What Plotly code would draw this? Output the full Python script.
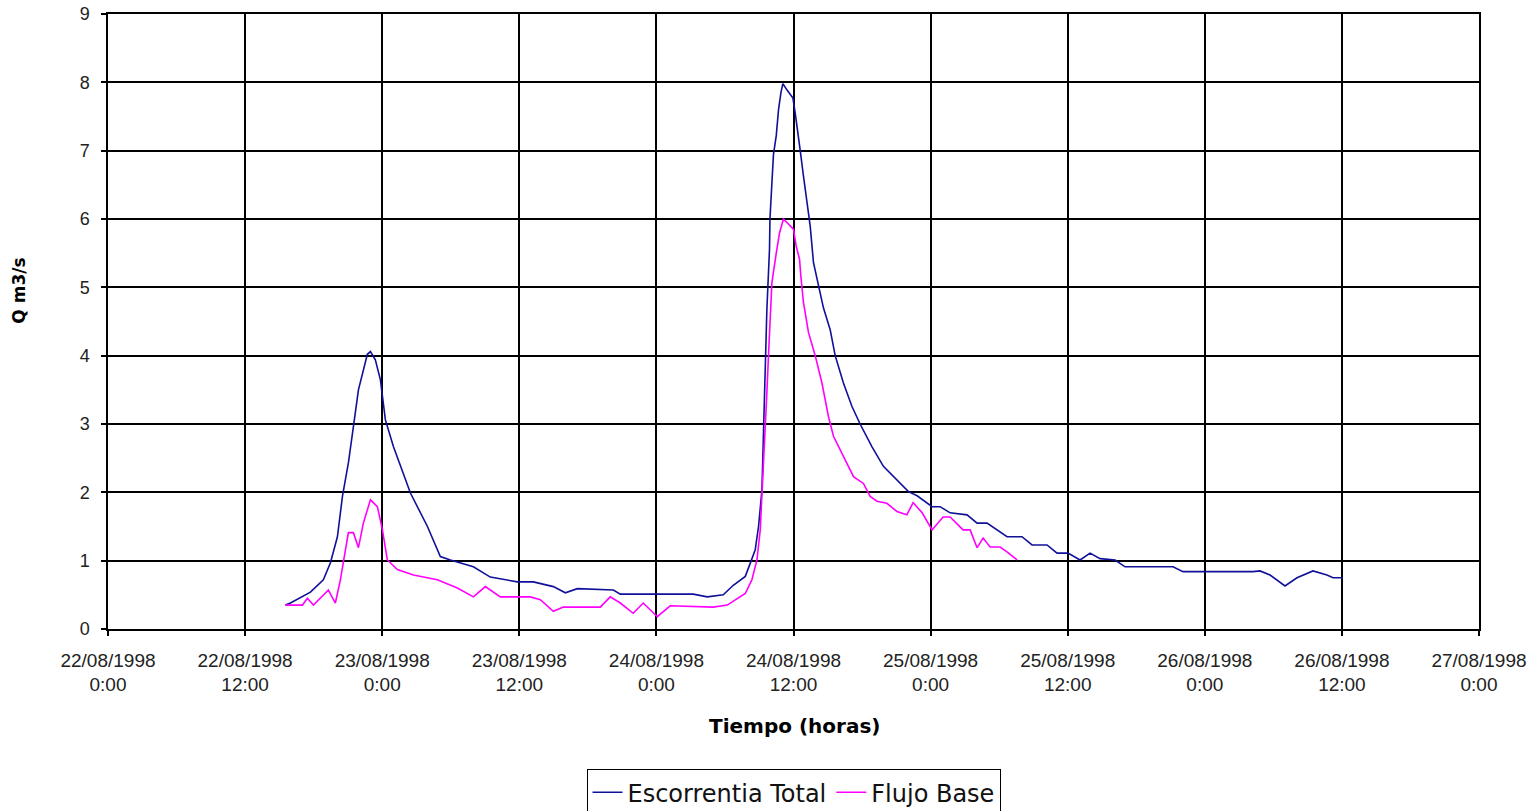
import plotly.graph_objects as go
from datetime import datetime, timedelta

inicio = datetime(1998, 8, 22, 0, 0)

# Escorrentia Total: hours since 22/08/1998 0:00, Q (m3/s)
horas_total = [15.53, 15.97, 17.72, 18.85, 19.47, 20.08, 20.52, 21.04, 21.48, 21.92,
               22.70, 22.97, 23.40, 23.84, 24.28, 24.98, 26.47, 27.96, 29.09, 29.97,
               31.98, 33.46, 35.83, 37.23, 38.98, 40.03, 41.08, 44.23, 44.84, 48.08,
               51.23, 52.45, 53.85, 54.73, 55.34, 55.78, 56.21, 56.65, 56.94, 57.24,
               57.38, 57.52, 57.67, 57.90, 57.94, 58.11, 58.25, 58.49, 58.69, 58.90,
               59.07, 59.42, 59.95, 60.15, 60.35, 60.59, 60.87, 61.17, 61.46, 61.75,
               62.19, 62.62, 63.21, 63.65, 64.37, 65.11, 65.83, 66.86, 67.87, 69.05,
               70.06, 70.82, 72.13, 72.83, 73.71, 75.19, 76.07, 76.94, 78.69, 80.00,
               80.88, 82.19, 83.07, 84.03, 85.08, 85.96, 86.83, 88.15, 89.02, 93.22,
               94.09, 100.22, 100.83, 101.71, 103.02, 104.07, 105.47, 106.69, 107.22, 108.09]
q_total = [0.35, 0.38, 0.54, 0.72, 0.97, 1.35, 1.94, 2.43, 2.96, 3.50,
           4.02, 4.06, 3.94, 3.65, 3.06, 2.67, 1.99, 1.50, 1.06, 1.01,
           0.91, 0.76, 0.69, 0.69, 0.62, 0.53, 0.59, 0.57, 0.51, 0.51,
           0.51, 0.47, 0.50, 0.64, 0.72, 0.77, 0.96, 1.16, 1.50, 2.04,
           2.92, 4.00, 4.68, 5.56, 6.00, 6.53, 6.95, 7.22, 7.60, 7.85,
           7.98, 7.89, 7.77, 7.55, 7.26, 7.00, 6.63, 6.24, 5.90, 5.36,
           5.02, 4.70, 4.38, 4.00, 3.60, 3.26, 3.00, 2.67, 2.38, 2.18,
           2.01, 1.95, 1.79, 1.79, 1.70, 1.67, 1.55, 1.55, 1.35, 1.35,
           1.23, 1.23, 1.11, 1.11, 1.01, 1.11, 1.03, 1.01, 0.91, 0.91,
           0.84, 0.84, 0.85, 0.79, 0.63, 0.75, 0.85, 0.79, 0.75, 0.75]

# Flujo Base
horas_base = [15.53, 17.02, 17.45, 17.98, 19.29, 19.90, 20.34, 21.04, 21.48, 21.92,
              22.35, 22.97, 23.58, 24.02, 24.45, 25.33, 26.73, 28.83, 30.58, 31.98,
              33.03, 34.34, 36.96, 37.84, 38.98, 39.85, 43.09, 43.96, 44.84, 45.97,
              46.85, 48.08, 49.21, 51.84, 52.97, 54.20, 55.34, 55.78, 56.36, 56.80,
              57.09, 57.24, 57.52, 57.67, 57.81, 58.11, 58.49, 58.78, 59.12, 59.56,
              60.00, 60.24, 60.53, 60.64, 60.87, 61.31, 61.90, 62.49, 63.06, 63.50,
              64.09, 64.67, 65.25, 66.12, 66.71, 67.30, 68.17, 69.05, 69.92, 70.47,
              71.26, 72.13, 73.09, 73.71, 74.84, 75.46, 76.07, 76.60, 77.21, 78.08,
              78.69, 79.57]
q_base = [0.35, 0.35, 0.45, 0.35, 0.57, 0.38, 0.72, 1.41, 1.41, 1.19,
          1.55, 1.89, 1.79, 1.45, 1.01, 0.87, 0.79, 0.72, 0.60, 0.47,
          0.62, 0.47, 0.47, 0.43, 0.26, 0.32, 0.32, 0.47, 0.38, 0.23,
          0.38, 0.18, 0.34, 0.32, 0.32, 0.35, 0.47, 0.52, 0.72, 1.01,
          1.45, 1.94, 2.77, 3.46, 4.00, 5.07, 5.50, 5.80, 6.00, 5.92,
          5.85, 5.60, 5.41, 5.17, 4.78, 4.34, 4.00, 3.60, 3.11, 2.82,
          2.62, 2.43, 2.23, 2.13, 1.94, 1.87, 1.84, 1.72, 1.67, 1.85,
          1.70, 1.45, 1.64, 1.64, 1.45, 1.45, 1.19, 1.33, 1.20, 1.20,
          1.13, 1.01]

tick_fechas = ["1998-08-22 00:00", "1998-08-22 12:00", "1998-08-23 00:00", "1998-08-23 12:00",
               "1998-08-24 00:00", "1998-08-24 12:00", "1998-08-25 00:00", "1998-08-25 12:00",
               "1998-08-26 00:00", "1998-08-26 12:00", "1998-08-27 00:00"]
tick_textos = ["22/08/1998<br>0:00", "22/08/1998<br>12:00", "23/08/1998<br>0:00", "23/08/1998<br>12:00",
               "24/08/1998<br>0:00", "24/08/1998<br>12:00", "25/08/1998<br>0:00", "25/08/1998<br>12:00",
               "26/08/1998<br>0:00", "26/08/1998<br>12:00", "27/08/1998<br>0:00"]

x_total = [inicio + timedelta(hours=h) for h in horas_total]
x_base = [inicio + timedelta(hours=h) for h in horas_base]

fig = go.Figure()
fig.add_trace(go.Scatter(x=x_total, y=q_total, mode="lines", name="Escorrentia Total",
                         line=dict(color="#10109A", width=1.6)))
fig.add_trace(go.Scatter(x=x_base, y=q_base, mode="lines", name="Flujo Base",
                         line=dict(color="#FF00FF", width=1.6)))

fig.update_layout(
    width=1539, height=811,
    margin=dict(l=107.5, r=60, t=14, b=181.5, autoexpand=False),
    paper_bgcolor="white", plot_bgcolor="white",
    font=dict(family="Liberation Sans, Arial", color="#222222", size=18),
    showlegend=True,
    legend=dict(orientation="h", x=0.5, xanchor="center", y=-0.228, yanchor="top",
                bordercolor="black", borderwidth=1, bgcolor="white",
                font=dict(size=24, color="#111111", family="DejaVu Sans"),
                itemwidth=30, tracegroupgap=0),
    xaxis=dict(
        type="date", range=["1998-08-22 00:00", "1998-08-27 00:00"],
        tickmode="array", tickvals=tick_fechas, ticktext=tick_textos,
        showgrid=True, gridcolor="black", gridwidth=1.5,
        showline=True, linecolor="black", linewidth=1.5, mirror=True,
        ticks="outside", ticklen=5, tickcolor="black", tickwidth=1.5,
        ticklabelstandoff=8, automargin=False,
        tickfont=dict(size=19, color="#222222"), zeroline=False,
    ),
    yaxis=dict(
        range=[0, 9], dtick=1, tick0=0,
        showgrid=True, gridcolor="black", gridwidth=1.5,
        showline=True, linecolor="black", linewidth=1.5, mirror=True,
        ticks="outside", ticklen=5, tickcolor="black", tickwidth=1.5,
        ticklabelstandoff=8, automargin=False,
        tickfont=dict(size=18, color="#222222"), zeroline=False,
    ),
    annotations=[
        dict(text="<b>Tiempo (horas)</b>", xref="paper", yref="paper", x=0.501, y=-0.158,
             xanchor="center", yanchor="middle", showarrow=False,
             font=dict(size=20, color="black", family="DejaVu Sans")),
        dict(text="<b>Q m3/s</b>", xref="paper", yref="paper", x=-0.065, y=0.55,
             xanchor="center", yanchor="middle", showarrow=False, textangle=-90,
             font=dict(size=17, color="black", family="DejaVu Sans")),
    ],
)

fig.write_html("out.html", config={"displayModeBar": False},
               post_script="document.body.style.margin='0';")
